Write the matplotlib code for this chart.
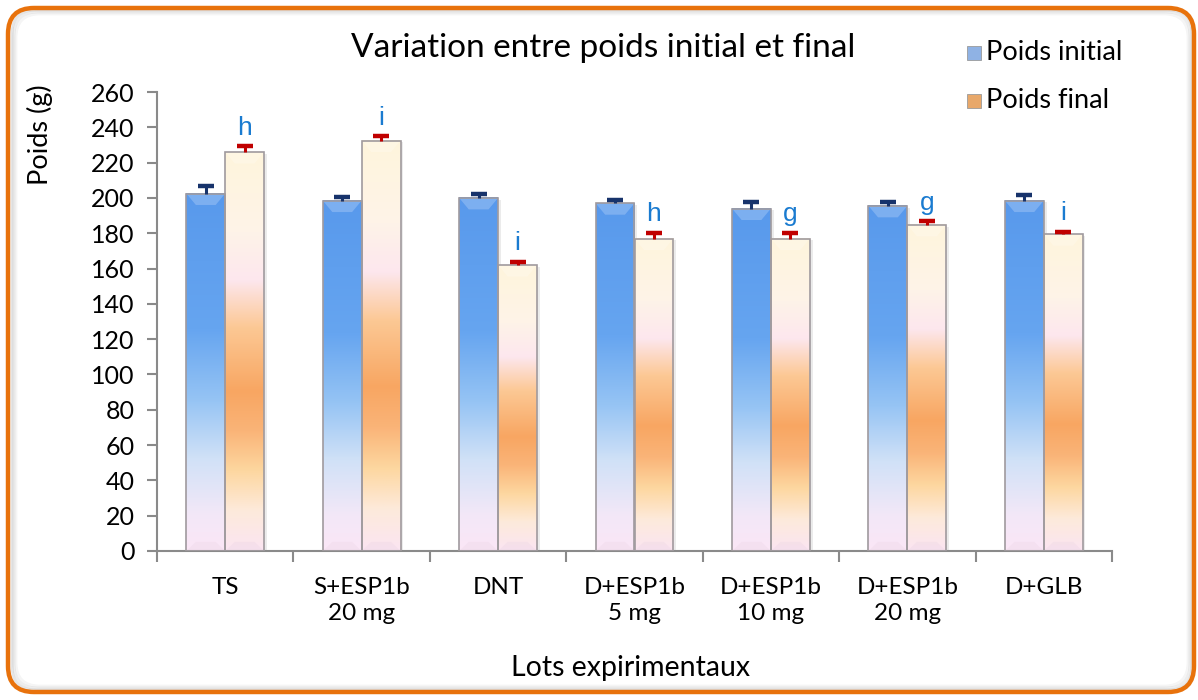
import numpy as np
import matplotlib
matplotlib.use("Agg")
import matplotlib.pyplot as plt
from matplotlib.colors import LinearSegmentedColormap
from matplotlib.patches import FancyBboxPatch, Polygon, Rectangle

# data
lots = ["TS", "S+ESP1b\n20 mg", "DNT", "D+ESP1b\n5 mg", "D+ESP1b\n10 mg", "D+ESP1b\n20 mg", "D+GLB"]
poids_initial = [202.5, 198.5, 200, 197, 194, 195.5, 198.5]
err_initial = [4.2, 2.2, 2.2, 2, 3.8, 2.3, 3.1]
poids_final = [226, 232.5, 162, 177, 177, 184.7, 179.5]
err_final = [3.3, 2.5, 1.8, 3.3, 3.3, 2.2, 1.2]
lettres = ["h", "i", "i", "h", "g", "g", "i"]

plt.rcParams["font.family"] = ["Lato", "DejaVu Sans"]

fig = plt.figure(figsize=(11.98, 7.0), dpi=100)

# rounded orange frame, drawn in pixel coords
bg = fig.add_axes([0, 0, 1, 1], zorder=0)
bg.set_xlim(0, 1198)
bg.set_ylim(0, 700)
bg.axis("off")
for i, a in enumerate([0.10, 0.07, 0.04]):
    bg.add_patch(FancyBboxPatch((12 + i * 2, 10 + i * 2), 1180 - i * 4, 680 - i * 4,
                                boxstyle="round,pad=0,rounding_size=24",
                                fill=False, ec="black", lw=2, alpha=a))
bg.add_patch(FancyBboxPatch((8, 8), 1186, 684, boxstyle="round,pad=0,rounding_size=26",
                            fill=False, ec="#e8720c", lw=3.2))

ax = fig.add_axes([157 / 1198, 1 - 551 / 700, (1112 - 157) / 1198, (551 - 92) / 700], zorder=2)
ax.patch.set_alpha(0)

cm_init = LinearSegmentedColormap.from_list("init", [
    (0.0, "#5899ec"), (0.38, "#66a5f0"), (0.58, "#96c4f4"),
    (0.74, "#d0e1f7"), (0.9, "#f3e8f8"), (1.0, "#fbe6f6")])
cm_final = LinearSegmentedColormap.from_list("final", [
    (0.0, "#fff5dc"), (0.2, "#fef3e8"), (0.32, "#fde7ee"), (0.44, "#fcc894"),
    (0.6, "#f8a662"), (0.7, "#fab478"), (0.8, "#fdd7a0"), (0.9, "#fdeadb"), (1.0, "#fbe5f2")])

grad = np.linspace(0, 1, 256).reshape(-1, 1)
w = 0.285
x = np.arange(len(lots))


def draw_bar(xc, h, cmap):
    x0, x1 = xc - w / 2, xc + w / 2
    ax.add_patch(Rectangle((x0 + 0.02, 0), w, h - 1, fc="#000000", alpha=0.08, lw=0, zorder=1))
    ax.imshow(grad, cmap=cmap, extent=(x0, x1, 0, h), origin="upper", aspect="auto",
              interpolation="bilinear", zorder=2)
    # bevels
    d, bh = 0.07, 6.5
    ax.add_patch(Polygon([(x0, h), (x1, h), (x1 - d, h - bh), (x0 + d, h - bh)],
                         fc="white", alpha=0.22, lw=0, zorder=3))
    ax.add_patch(Polygon([(x0, 0), (x1, 0), (x1 - d, bh * 0.8), (x0 + d, bh * 0.8)],
                         fc="#e0c8dc", alpha=0.2, lw=0, zorder=3))
    ax.add_patch(Rectangle((x0, 0), w, h, fill=False, ec="#a09a9e", lw=1.2, zorder=4))


for i in range(len(lots)):
    draw_bar(x[i] - w / 2, poids_initial[i], cm_init)
    draw_bar(x[i] + w / 2, poids_final[i], cm_final)

for xs, ys, es, col in [(x - w / 2, poids_initial, err_initial, "#17336b"),
                        (x + w / 2, poids_final, err_final, "#c00000")]:
    eb = ax.errorbar(xs, ys, yerr=[np.zeros(len(x)), es], fmt="none", ecolor=col,
                     elinewidth=2.2, capsize=5.5, capthick=3.2, zorder=5)
    eb[1][0].set_visible(False)  # hide the lower cap

for i, l in enumerate(lettres):
    ax.text(x[i] + w / 2, poids_final[i] + err_final[i] + 10.5, l, ha="center", va="center",
            color="#1a7bd0", fontsize=19, family=["Liberation Sans", "DejaVu Sans"])

ax.set_xlim(-0.5, 6.5)
ax.set_ylim(0, 260)
ax.set_yticks(np.arange(0, 261, 20))
ax.set_xticks(x)
ax.set_xticklabels(lots, fontsize=17.5, linespacing=1.3)
ax.set_xticks(np.arange(-0.5, 7, 1), minor=True)
ax.tick_params(axis="x", which="major", length=0, pad=19)
ax.tick_params(axis="x", which="minor", length=8, width=1.5, color="#8a8a8a")
ax.tick_params(axis="y", length=7, width=1.5, color="#8a8a8a", labelsize=18, pad=9)
for s in ["top", "right"]:
    ax.spines[s].set_visible(False)
for s in ["left", "bottom"]:
    ax.spines[s].set_color("#8a8a8a")
    ax.spines[s].set_linewidth(1.5)

fig.text(603 / 1198, 1 - 48 / 700, "Variation entre poids initial et final", ha="center",
         va="center", fontsize=24)
fig.text(631 / 1198, 1 - 668 / 700, "Lots expirimentaux", ha="center", va="center", fontsize=20.5)
fig.text(40 / 1198, 1 - 135 / 700, "Poids (g)", ha="center", va="center", rotation=90, fontsize=19.5)

# legend
leg_items = [("Poids initial", "#8fb2e4", 53), ("Poids final", "#e8a86a", 101)]
for lab, col, yy in leg_items:
    bg.add_patch(Rectangle((967, 700 - yy - 7), 14, 14, fc=col, ec="#9a9a9a", lw=0.6, zorder=3))
    bg.text(986, 700 - yy, lab, ha="left", va="center", fontsize=19.5)

fig.savefig("out.png", dpi=100, facecolor="white")
